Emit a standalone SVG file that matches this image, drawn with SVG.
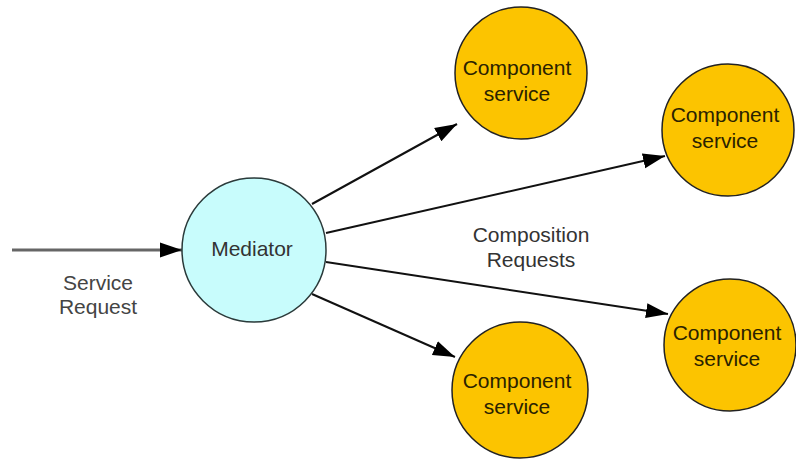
<svg xmlns="http://www.w3.org/2000/svg" width="796" height="465" viewBox="0 0 796 465">
<style>
.comp{fill:#fcc400;stroke:#222;stroke-width:1.5}
.med{fill:#c8fcfc;stroke:#2a3a3a;stroke-width:1.5}
.t{font-family:"Liberation Sans",Arial,sans-serif;font-size:21px;text-anchor:middle}
.ct{fill:#2a2200}
.lt{fill:#444}
.edge{stroke:#111;stroke-width:2;fill:none;marker-end:url(#ah)}
</style>
<defs>
<marker id="ah" markerUnits="userSpaceOnUse" markerWidth="23" markerHeight="17" refX="22" refY="8.5" orient="auto">
<path d="M0,1 L22,8.5 L0,16 z" fill="#000"/>
</marker>
</defs>
<rect width="796" height="465" fill="#fff"/>
<g id="connectors">
<line x1="12" y1="250" x2="182" y2="250" stroke="#666" stroke-width="3" marker-end="url(#ah)"/>
<line class="edge" x1="312" y1="204" x2="457" y2="124"/>
<line class="edge" x1="326" y1="233" x2="665" y2="156"/>
<line class="edge" x1="326" y1="262" x2="668" y2="314"/>
<line class="edge" x1="312" y1="294" x2="455" y2="357"/>
</g>
<g id="mediator">
<circle class="med" cx="254" cy="250" r="72"/>
<text class="t" x="252" y="256" fill="#333">Mediator</text>
</g>
<g id="comp1">
<circle class="comp" cx="521" cy="73" r="66"/>
<text class="t ct" x="517" y="75">Component</text>
<text class="t ct" x="517" y="101">service</text>
</g>
<g id="comp2">
<circle class="comp" cx="728" cy="130" r="66"/>
<text class="t ct" x="725" y="122">Component</text>
<text class="t ct" x="725" y="148">service</text>
</g>
<g id="comp3">
<circle class="comp" cx="730" cy="345" r="66"/>
<text class="t ct" x="727" y="340">Component</text>
<text class="t ct" x="727" y="366">service</text>
</g>
<g id="comp4">
<circle class="comp" cx="520" cy="390" r="68"/>
<text class="t ct" x="517" y="388">Component</text>
<text class="t ct" x="517" y="414">service</text>
</g>
<g id="labels">
<text class="t lt" x="98" y="290">Service</text>
<text class="t lt" x="98" y="314">Request</text>
<text class="t" x="531" y="242" fill="#333">Composition</text>
<text class="t" x="531" y="267" fill="#333">Requests</text>
</g>
</svg>
